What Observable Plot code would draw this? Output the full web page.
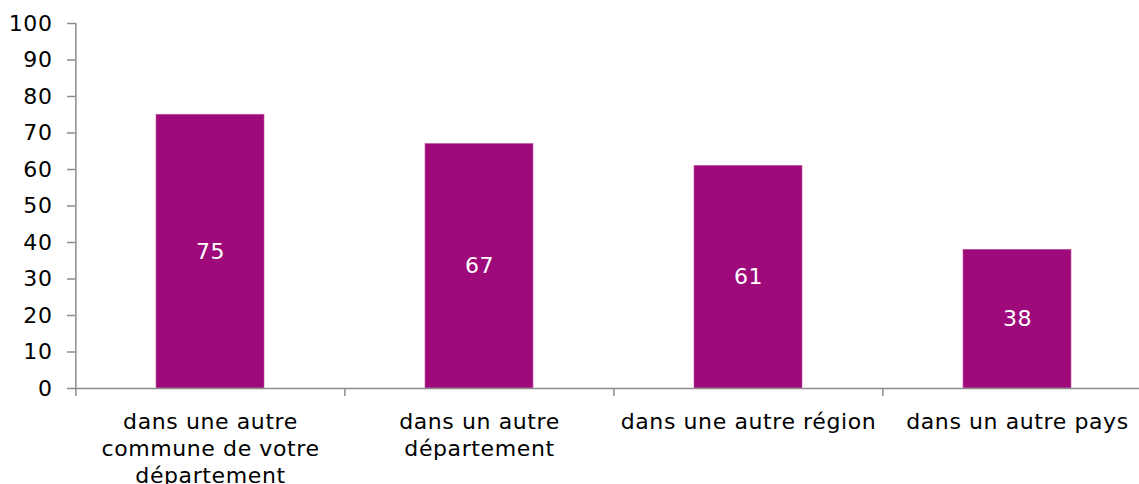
<!DOCTYPE html>
<html>
<head>
<meta charset="utf-8">
<script src="https://cdn.jsdelivr.net/npm/d3@7"></script>
<script src="https://cdn.jsdelivr.net/npm/@observablehq/plot@0.6"></script>
<style>
  html, body { margin: 0; padding: 0; background: #fff; }
  #chart svg text { letter-spacing: 0.6px; }
</style>
</head>
<body>
<div id="chart"></div>
<script>
const categories = [
  "dans une autre commune de votre département",
  "dans un autre département",
  "dans une autre région",
  "dans un autre pays"
];
const tickLabels = [
  "dans une autre\ncommune de votre\ndépartement",
  "dans un autre\ndépartement",
  "dans une autre région",
  "dans un autre pays"
];
const values = [75, 67, 61, 38];
const yTicks = [0, 10, 20, 30, 40, 50, 60, 70, 80, 90, 100];

const data = categories.map((c, i) => ({category: c, value: values[i]}));

const W = 1139, H = 484;
const xStart = 75, xEnd = 1152;
const step = (xEnd - xStart) / categories.length;
const barColor = "#9E0A7A";
const axisColor = "#8c8c8c";
const fs = 22;

const chart = Plot.plot({
  width: W,
  height: H,
  marginLeft: 75,
  marginRight: 0,
  marginTop: 23,
  marginBottom: 96,
  style: {fontFamily: "'DejaVu Sans', Verdana, sans-serif", fontSize: fs + "px", color: "#000", background: "#fff"},
  x: {type: "band", domain: categories, range: [xStart, xEnd], paddingInner: 0.6, paddingOuter: 0.3},
  y: {domain: [0, 100]},
  marks: [
    Plot.barY(data, {x: "category", y: "value", fill: barColor, stroke: "#c05aa6", strokeWidth: 0.6}),
    Plot.text(data, {x: "category", y: d => d.value / 2, text: d => String(d.value), fill: "white", fontSize: fs}),
    Plot.ruleY([0], {stroke: axisColor, strokeWidth: 1.5}),
    Plot.ruleX([categories[0]], {x: d => d, dx: -step / 2, y1: -2.2, y2: 100, stroke: axisColor, strokeWidth: 1.5}),
    Plot.ruleX(categories.slice(1), {x: d => d, dx: -step / 2, y1: -2.2, y2: 0, stroke: axisColor, strokeWidth: 1.5}),
    Plot.axisY({ticks: yTicks, tickSize: 8, tickPadding: 15, stroke: axisColor, strokeWidth: 1.5, fill: "#000", fontSize: fs, label: null}),
    Plot.axisX({tickSize: 0, tickPadding: 21, tickFormat: d => tickLabels[categories.indexOf(d)], lineHeight: 1.24, fontSize: fs, fill: "#000", label: null})
  ]
});
document.getElementById("chart").appendChild(chart);
</script>
</body>
</html>
